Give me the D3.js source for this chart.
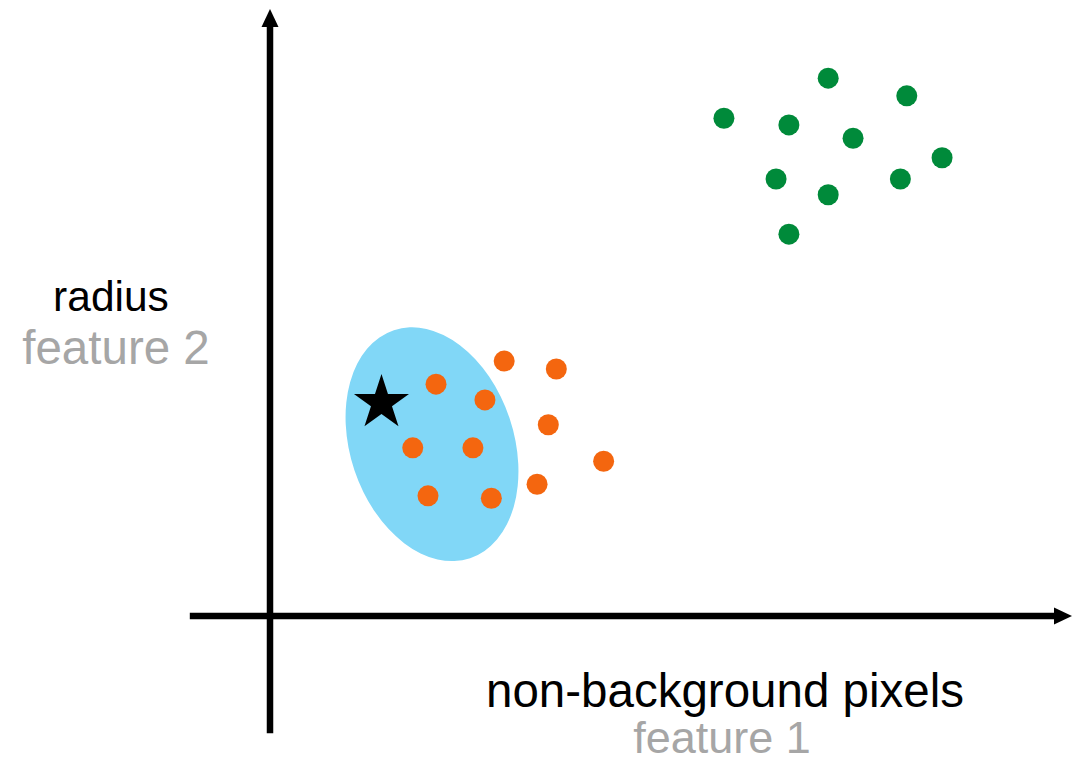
<!DOCTYPE html>
<html>
<head>
<meta charset="utf-8">
<script src="https://cdn.jsdelivr.net/npm/d3@7"></script>
<style>
  html, body { margin: 0; padding: 0; background: #ffffff; }
  svg { display: block; }
  text { font-family: "Liberation Sans", Arial, sans-serif; }
</style>
</head>
<body>
<svg id="chart" width="1084" height="764"></svg>
<script>
// Cluster A (orange): feature 1, feature 2
const orangeX = [29.2, 35.7, 20.7, 26.8, 34.7, 17.8, 25.3, 41.6, 33.3, 19.7, 27.6];
const orangeY = [42.0, 40.7, 38.2, 35.6, 31.5, 27.7, 27.7, 25.5, 21.7, 19.8, 19.4];

// Cluster B (green)
const greenX = [69.6, 79.4, 56.6, 64.7, 72.7, 83.8, 63.1, 78.6, 69.6, 64.7];
const greenY = [88.6, 85.7, 82.0, 80.9, 78.7, 75.5, 72.0, 72.0, 69.4, 62.9];

// Query sample (star) and its neighbourhood ellipse
const queryPoint = [13.9, 35.1];
const hoodCenter = [20.2, 28.3];
const hoodRadii = [10.2, 19.8];   // half-width, half-height in data units
const hoodTilt = -18.5;           // degrees

// Axis extents (arrow tips at 100)
const xExtent = [-10, 100];
const yExtent = [-19.3, 100];

// Axis labels
const xLabel = "non-background pixels";
const xSub = "feature 1";
const yLabel = "radius";
const ySub = "feature 2";

const colors = { orange: "#F4660F", green: "#008A3A", hood: "#81D7F7", axis: "#000000", sub: "#A6A6A6" };

const svg = d3.select("#chart");
const x = d3.scaleLinear().domain([0, 100]).range([270, 1072]);
const y = d3.scaleLinear().domain([0, 100]).range([616, 9]);

// neighbourhood ellipse
const ex = x(hoodCenter[0]), ey = y(hoodCenter[1]);
svg.append("ellipse")
  .attr("cx", 0).attr("cy", 0)
  .attr("rx", x(hoodRadii[0]) - x(0))
  .attr("ry", y(0) - y(hoodRadii[1]))
  .attr("transform", `translate(${ex},${ey}) rotate(${hoodTilt})`)
  .attr("fill", colors.hood);

// axes with arrowheads
const lw = 6.5, headLen = 18, headHalf = 8.5;
const ax = svg.append("g");
ax.append("line")
  .attr("x1", x(xExtent[0])).attr("x2", x(xExtent[1]) - headLen + 1)
  .attr("y1", y(0)).attr("y2", y(0))
  .attr("stroke", colors.axis).attr("stroke-width", lw);
ax.append("path")
  .attr("d", d3.line()([[x(xExtent[1]), y(0)], [x(xExtent[1]) - headLen, y(0) - headHalf], [x(xExtent[1]) - headLen, y(0) + headHalf]]) + "Z")
  .attr("fill", colors.axis);
ax.append("line")
  .attr("x1", x(0)).attr("x2", x(0))
  .attr("y1", y(yExtent[0])).attr("y2", y(yExtent[1]) + headLen - 1)
  .attr("stroke", colors.axis).attr("stroke-width", lw);
ax.append("path")
  .attr("d", d3.line()([[x(0), y(yExtent[1])], [x(0) - headHalf, y(yExtent[1]) + headLen], [x(0) + headHalf, y(yExtent[1]) + headLen]]) + "Z")
  .attr("fill", colors.axis);

// points
const r = 10.5;
svg.append("g").selectAll("circle")
  .data(d3.zip(orangeX, orangeY)).join("circle")
  .attr("cx", d => x(d[0])).attr("cy", d => y(d[1])).attr("r", r)
  .attr("fill", colors.orange);
svg.append("g").selectAll("circle")
  .data(d3.zip(greenX, greenY)).join("circle")
  .attr("cx", d => x(d[0])).attr("cy", d => y(d[1])).attr("r", r)
  .attr("fill", colors.green);

// query star
svg.append("path")
  .attr("d", d3.symbol(d3.symbolStar, 940)())
  .attr("transform", `translate(${x(queryPoint[0])},${y(queryPoint[1])})`)
  .attr("fill", "#000");

// labels
svg.append("text").attr("x", 111).attr("y", 311)
  .attr("text-anchor", "middle").attr("font-size", 42.5).attr("fill", colors.axis).text(yLabel);
svg.append("text").attr("x", 116).attr("y", 364)
  .attr("text-anchor", "middle").attr("font-size", 47.5).attr("fill", colors.sub).text(ySub);
svg.append("text").attr("x", 725).attr("y", 707)
  .attr("text-anchor", "middle").attr("font-size", 47.5).attr("fill", colors.axis).text(xLabel);
svg.append("text").attr("x", 722).attr("y", 753)
  .attr("text-anchor", "middle").attr("font-size", 45).attr("fill", colors.sub).text(xSub);
</script>
</body>
</html>
